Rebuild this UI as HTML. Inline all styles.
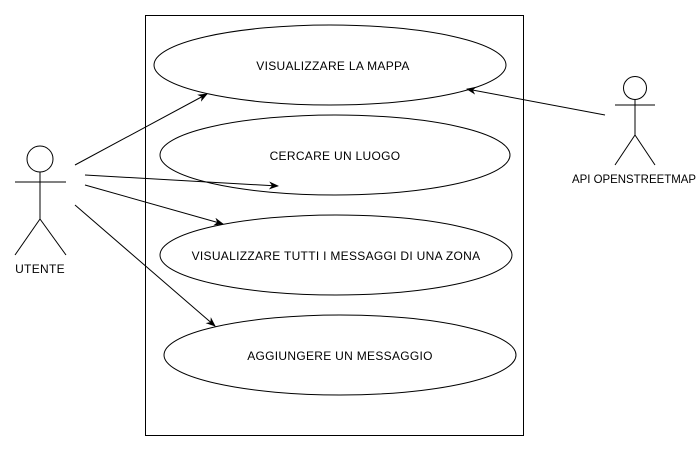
<!DOCTYPE html>
<html><head><style>body{margin:0;background:#fff}svg{display:block}</style></head><body>
<svg width="700" height="450" xmlns="http://www.w3.org/2000/svg" font-family="Liberation Sans, sans-serif" font-size="12" letter-spacing="0.3">
<defs><marker id="a" markerWidth="10" markerHeight="8" refX="9" refY="4" orient="auto" markerUnits="userSpaceOnUse"><path d="M0,0 L10,4 L0,8 L3,4z" fill="#000"/></marker></defs>
<rect x="145.5" y="15.5" width="378" height="420" fill="none" stroke="#000"/>
<g fill="#fff" stroke="#000">
<ellipse cx="330" cy="65" rx="176" ry="40"/>
<ellipse cx="335" cy="155" rx="175" ry="40"/>
<ellipse cx="336" cy="255" rx="176" ry="40"/>
<ellipse cx="340" cy="355" rx="176" ry="40"/>
</g>
<g text-anchor="middle" fill="#000">
<text x="333" y="70">VISUALIZZARE LA MAPPA</text>
<text x="335" y="160">CERCARE UN LUOGO</text>
<text x="336" y="260">VISUALIZZARE TUTTI I MESSAGGI DI UNA ZONA</text>
<text x="340" y="360">AGGIUNGERE UN MESSAGGIO</text>
<text x="40" y="273">UTENTE</text>
</g>
<text x="572" y="183" letter-spacing="0" textLength="124" lengthAdjust="spacingAndGlyphs">API OPENSTREETMAP</text>
<g stroke="#000" fill="none" marker-end="url(#a)">
<line x1="75" y1="165" x2="207" y2="94"/>
<line x1="85" y1="175" x2="278" y2="186"/>
<line x1="85" y1="185" x2="223" y2="224"/>
<line x1="75" y1="205" x2="215" y2="326"/>
<line x1="605" y1="115" x2="467" y2="89"/>
</g>
<g stroke="#000" fill="none">
<circle cx="40" cy="159" r="13"/>
<line x1="15" y1="182" x2="66" y2="182"/><line x1="40" y1="172" x2="40" y2="219"/>
<line x1="40" y1="219" x2="15" y2="255"/><line x1="40" y1="219" x2="66" y2="255"/>
<circle cx="635" cy="88" r="11.5"/>
<line x1="615" y1="105" x2="655" y2="105"/><line x1="635" y1="100" x2="635" y2="135"/>
<line x1="635" y1="135" x2="615" y2="165"/><line x1="635" y1="135" x2="655" y2="165"/>
</g>
</svg>
</body></html>
